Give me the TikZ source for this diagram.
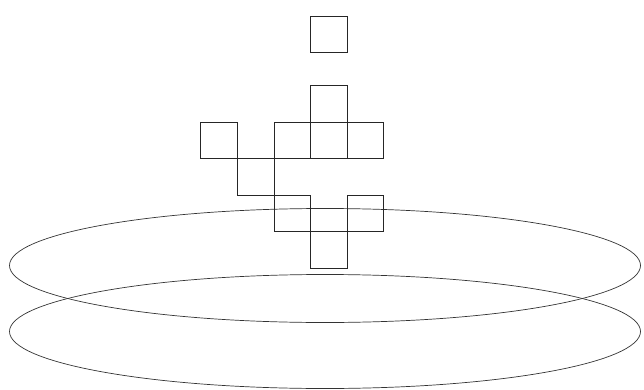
\documentclass[tikz,border=0pt]{standalone}
\usetikzlibrary{positioning, shapes.geometric}

\begin{document}
\begin{tikzpicture}[
  x=1pt, y=-1pt,
  node distance=0pt,
  cell/.style={
    draw=black!85, line width=0.8pt, minimum size=36.6pt,
    inner sep=0pt, outer sep=0pt
  },
  disc/.style={
    draw=black!80, ellipse, line width=0.7pt,
    minimum width=631pt, minimum height=114pt, inner sep=0pt
  }
]
\useasboundingbox (0, 0) rectangle (644, 390);

% the two rings
\node[disc] (ringlow) at (325, 331.5) {};
\node[disc] (ringup) at (325, 265.5) {};

% the blocks
\node[cell] (mid) at (328.8, 140.3) {};
\node[cell, above=of mid] (up) {};
\node[cell, above=32.6pt of up] (top) {};
\node[cell, left=of mid] (midl) {};
\node[cell, right=of mid] (midr) {};
\node[cell, left=36.6pt of midl] (far) {};
\node[cell, below right=of far] (step1) {};
\node[cell, below right=of step1] (step2) {};
\node[cell, below right=of step2] (foot) {};
\node[cell, above right=of foot] (side) {};

\end{tikzpicture}
\end{document}
